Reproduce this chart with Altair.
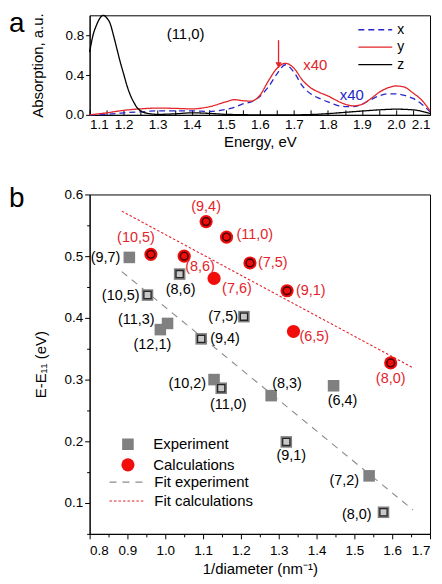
import altair as alt
import pandas as pd

FONT = "Liberation Sans"
RED = "#e3242b"
DOT_RED = "#f20d0d"
BLUE = "#2626c8"
GRAY = "#808080"

# ---------------- panel a : absorption spectra of the (11,0) tube ----------------
ENERGY_XY = [1.10, 1.15, 1.20, 1.25, 1.30, 1.35, 1.40, 1.45, 1.50, 1.525, 1.55, 1.575,
             1.60, 1.625, 1.65, 1.675, 1.70, 1.725, 1.75, 1.775, 1.80, 1.825, 1.85,
             1.875, 1.90, 1.925, 1.95, 1.975, 2.00, 2.025, 2.05, 2.075, 2.10]
ABS_X = [0.0, 0.005, 0.02, 0.03, 0.04, 0.04, 0.04, 0.035, 0.055, 0.075, 0.11, 0.13,
         0.185, 0.28, 0.41, 0.503, 0.43, 0.29, 0.21, 0.165, 0.13, 0.098, 0.083,
         0.082, 0.108, 0.15, 0.19, 0.21, 0.21, 0.195, 0.165, 0.11, 0.03]
ABS_Y = [0.0, 0.02, 0.045, 0.06, 0.068, 0.065, 0.06, 0.08, 0.13, 0.152, 0.142, 0.138,
         0.195, 0.34, 0.465, 0.518, 0.47, 0.35, 0.27, 0.225, 0.19, 0.145, 0.108,
         0.09, 0.105, 0.16, 0.225, 0.27, 0.29, 0.278, 0.22, 0.15, 0.04]
ENERGY_Z = [1.10, 1.11, 1.12, 1.13, 1.14, 1.15, 1.16, 1.17, 1.18, 1.19, 1.20, 1.21,
            1.22, 1.23, 1.24, 1.25, 1.27, 1.30, 1.35, 1.40, 1.45, 1.50, 1.60, 1.70,
            1.75, 1.80, 1.85, 1.90, 1.95, 2.00, 2.05, 2.10]
ABS_Z = [0.63, 0.80, 0.90, 0.97, 1.0, 0.975, 0.92, 0.80, 0.665, 0.53, 0.41, 0.29,
         0.195, 0.125, 0.07, 0.04, 0.015, 0.005, 0.01, 0.02, 0.015, 0.005, 0.0, 0.0,
         0.003, 0.012, 0.025, 0.038, 0.05, 0.057, 0.05, 0.015]

ANNOT_TEXT = ["(11,0)", "x40", "x40"]
ANNOT_E = [1.382, 1.763, 1.870]
ANNOT_A = [0.813, 0.497, 0.197]
ANNOT_COLOR = ["black", RED, BLUE]

ARROW_E = [1.655]
ARROW_TOP = [0.75]
ARROW_TIP = [0.47]

# ---------------- panel b : E - E11 versus inverse diameter ----------------
EXP_LABELS = ["(9,7)", "(10,5)", "(8,6)", "(11,3)", "(12,1)", "(9,4)", "(7,5)",
              "(10,2)", "(11,0)", "(8,3)", "(6,4)", "(9,1)", "(7,2)", "(8,0)"]
EXP_INV_D = [0.905, 0.953, 1.038, 1.006, 0.987, 1.095, 1.208,
             1.129, 1.148, 1.280, 1.445, 1.320, 1.539, 1.577]
EXP_DE = [0.498, 0.437, 0.471, 0.391, 0.381, 0.366, 0.402,
          0.300, 0.286, 0.274, 0.290, 0.199, 0.144, 0.085]
EXP_MATCHED = [False, True, True, False, False, True, True,
               False, True, False, False, True, False, True]

CALC_LABELS = ["(10,5)", "(8,6)", "(9,4)", "(11,0)", "(7,6)", "(7,5)", "(9,1)", "(6,5)", "(8,0)"]
CALC_INV_D = [0.962, 1.050, 1.108, 1.162, 1.129, 1.224, 1.322, 1.339, 1.596]
CALC_DE = [0.503, 0.500, 0.556, 0.531, 0.464, 0.489, 0.444, 0.378, 0.327]
CALC_MATCHED = [True, True, True, True, False, True, True, False, True]

# label placement (pixel offsets, alignment) -- styling only
EXP_LABEL_POS = {
    "(9,7)": (-9, 1, "right"), "(10,5)": (-8, 1, "right"), "(8,6)": (1, 16, "center"),
    "(11,3)": (-13, -3, "right"), "(12,1)": (-8, 15, "center"), "(9,4)": (9, 0, "left"),
    "(7,5)": (-6, 0, "right"), "(10,2)": (-8, 4, "right"), "(11,0)": (7, 17, "center"),
    "(8,3)": (16, -12, "center"), "(6,4)": (9, 15, "center"), "(9,1)": (5, 14, "center"),
    "(7,2)": (-10, 5, "right"), "(8,0)": (-12, 3, "right"),
}
CALC_LABEL_POS = {
    "(10,5)": (-15, -16, "center"), "(8,6)": (16, 11, "center"), "(9,4)": (0, -15, "center"),
    "(11,0)": (10, -2, "left"), "(7,6)": (23, 11, "center"), "(7,5)": (8, 0, "left"),
    "(9,1)": (9, 0, "left"), "(6,5)": (6, 6, "left"), "(8,0)": (0, 16, "center"),
}


def tick_values(start, stop, step):
    n = int(round((stop - start) / step))
    return [round(start + i * step, 3) for i in range(n + 1)]


EVEN_LABEL = "(round(datum.value*20) % 2 == 0) ? format(datum.value, '.1f') : ''"
MINOR_TICK = {"condition": {"test": "round(datum.value*20) % 2 == 0", "value": 5}, "value": 3}

# ---------------- chart a ----------------
top_df = pd.concat([
    pd.DataFrame({"E": ENERGY_XY, "A": ABS_X, "comp": "x"}),
    pd.DataFrame({"E": ENERGY_XY, "A": ABS_Y, "comp": "y"}),
    pd.DataFrame({"E": ENERGY_Z, "A": ABS_Z, "comp": "z"}),
], ignore_index=True)

xa = alt.X("E:Q", title="Energy, eV",
           scale=alt.Scale(domain=[1.1, 2.1], nice=False, zero=False),
           axis=alt.Axis(values=tick_values(1.1, 2.1, 0.05), labelExpr=EVEN_LABEL,
                         tickSize=alt.ExprRef(expr="-5"), labelPadding=8, titlePadding=3))
ya = alt.Y("A:Q", title="Absorption, a.u.",
           scale=alt.Scale(domain=[0, 1.0], nice=False),
           axis=alt.Axis(values=tick_values(0, 1.0, 0.2),
                         labelExpr="(round(datum.value*5) % 2 == 0 && datum.value < 0.95) ? format(datum.value, '.1f') : ''",
                         tickSize=4, labelPadding=2, titlePadding=20))

leg_a = alt.Legend(title=None, orient="none", legendX=269, legendY=8, padding=0,
                   symbolSize=1156, symbolStrokeWidth=1.3, labelFontSize=14,
                   labelOffset=4, rowPadding=2.5, clipHeight=13)
comp_dom = ["x", "y", "z"]
lines_a = alt.Chart(top_df).mark_line(interpolate="monotone", strokeWidth=1.3).encode(
    x=xa, y=ya,
    color=alt.Color("comp:N", scale=alt.Scale(domain=comp_dom, range=[BLUE, RED, "black"]), legend=leg_a),
    strokeDash=alt.StrokeDash("comp:N", scale=alt.Scale(domain=comp_dom, range=[[6, 4], [1, 0], [1, 0]]),
                              legend=leg_a),
)

ann_df = pd.DataFrame({"E": ANNOT_E, "A": ANNOT_A, "text": ANNOT_TEXT, "c": ANNOT_COLOR})
ann_a = alt.Chart(ann_df).mark_text(font=FONT, fontSize=15).encode(
    x=xa, y=ya, text="text:N", color=alt.Color("c:N", scale=None))

arrow_df = pd.DataFrame({"E": ARROW_E, "A": ARROW_TOP, "A2": ARROW_TIP})
arrow_line = alt.Chart(arrow_df).mark_rule(color=RED, strokeWidth=1.3).encode(x=xa, y=ya, y2="A2:Q")
arrow_head = alt.Chart(arrow_df).mark_point(shape="triangle-down", filled=True, color=RED,
                                            size=40, opacity=1, yOffset=-3).encode(
    x=xa, y=alt.Y("A2:Q", scale=alt.Scale(domain=[0, 1.0], nice=False)))

letter_a = alt.Chart(pd.DataFrame({"t": ["a"]})).mark_text(
    font=FONT, fontSize=28, align="left", baseline="alphabetic").encode(
    text="t:N", x=alt.value(-81), y=alt.value(17))

chart_a = alt.layer(lines_a, ann_a, arrow_line, arrow_head, letter_a).resolve_scale(
    color="independent", strokeDash="independent").properties(width=342, height=100)

# ---------------- chart b ----------------
def lbl_cols(labels, pos):
    return ([pos[l][0] for l in labels], [pos[l][1] for l in labels], [pos[l][2] for l in labels])


edx, edy, eal = lbl_cols(EXP_LABELS, EXP_LABEL_POS)
cdx, cdy, cal = lbl_cols(CALC_LABELS, CALC_LABEL_POS)
exp_df = pd.DataFrame({"inv_d": EXP_INV_D, "de": EXP_DE, "label": EXP_LABELS,
                       "matched": EXP_MATCHED, "series": "Experiment",
                       "ldx": edx, "ldy": edy, "lalign": eal})
calc_df = pd.DataFrame({"inv_d": CALC_INV_D, "de": CALC_DE, "label": CALC_LABELS,
                        "matched": CALC_MATCHED, "series": "Calculations",
                        "ldx": cdx, "ldy": cdy, "lalign": cal})
pts_df = pd.concat([exp_df, calc_df], ignore_index=True)

xb = alt.X("inv_d:Q", title="1/diameter (nm⁻¹)",
           scale=alt.Scale(domain=[0.8, 1.7], nice=False, zero=False),
           axis=alt.Axis(values=tick_values(0.8, 1.7, 0.05), labelExpr=EVEN_LABEL,
                         tickSize=MINOR_TICK, labelPadding=5, titlePadding=4))
yb = alt.Y("de:Q", title="E-E₁₁ (eV)",
           scale=alt.Scale(domain=[0.05, 0.6], nice=False, zero=False),
           axis=alt.Axis(values=tick_values(0.05, 0.6, 0.05), labelExpr=EVEN_LABEL,
                         tickSize=MINOR_TICK, labelPadding=2, titlePadding=16))

fit_dom = ["Fit experiment", "Fit calculations"]
leg_fit = alt.Legend(title=None, orient="none", legendX=19, legendY=282, padding=0,
                     symbolSize=1296, symbolStrokeWidth=1.1, labelFontSize=15,
                     labelOffset=8, rowPadding=4, clipHeight=14)
fits = alt.Chart(pts_df).transform_regression(
    "inv_d", "de", method="linear", groupby=["series"], extent=[0.885, 1.655]
).transform_calculate(
    fit="datum.series == 'Experiment' ? 'Fit experiment' : 'Fit calculations'"
).mark_line(strokeWidth=1.1).encode(
    x=xb, y=yb,
    color=alt.Color("fit:N", scale=alt.Scale(domain=fit_dom, range=["#8c8c8c", RED]), legend=leg_fit),
    strokeDash=alt.StrokeDash("fit:N", scale=alt.Scale(domain=fit_dom, range=[[7, 6], [2.5, 2]]),
                              legend=leg_fit),
)

ser_dom = ["Experiment", "Calculations"]
leg_pts = alt.Legend(title=None, orient="none", legendX=31, legendY=244, padding=0,
                     labelFontSize=15, labelOffset=18, rowPadding=5.6, symbolStrokeWidth=0,
                     clipHeight=14)
points = alt.Chart(pts_df).mark_point(filled=True, opacity=1, strokeWidth=0).encode(
    x=xb, y=yb,
    color=alt.Color("series:N", scale=alt.Scale(domain=ser_dom, range=[GRAY, DOT_RED]), legend=leg_pts),
    shape=alt.Shape("series:N", scale=alt.Scale(domain=ser_dom, range=["square", "circle"]), legend=leg_pts),
    size=alt.Size("series:N", scale=alt.Scale(domain=ser_dom, range=[135, 175]), legend=leg_pts),
)

inner_sq = alt.Chart(exp_df).transform_filter("datum.matched").mark_square(
    size=52, color="#c8c8c8", stroke="#262626", strokeWidth=1.3, opacity=1).encode(x=xb, y=yb)
inner_ci = alt.Chart(calc_df).transform_filter("datum.matched").mark_point(
    shape="circle", filled=False, size=60, stroke="#4d0000", strokeWidth=1.6, opacity=1).encode(x=xb, y=yb)

lbl_exp = alt.Chart(exp_df).mark_text(
    font=FONT, fontSize=14.5, color="black", baseline="middle",
    align=alt.ExprRef(expr="datum.lalign"), dx=alt.ExprRef(expr="datum.ldx"),
    dy=alt.ExprRef(expr="datum.ldy")).encode(x=xb, y=yb, text="label:N")
lbl_calc = alt.Chart(calc_df).mark_text(
    font=FONT, fontSize=14.5, color=RED, baseline="middle",
    align=alt.ExprRef(expr="datum.lalign"), dx=alt.ExprRef(expr="datum.ldx"),
    dy=alt.ExprRef(expr="datum.ldy")).encode(x=xb, y=yb, text="label:N")

letter_b = alt.Chart(pd.DataFrame({"t": ["b"]})).mark_text(
    font=FONT, fontSize=28, align="left", baseline="alphabetic").encode(
    text="t:N", x=alt.value(-81), y=alt.value(13))

chart_b = alt.layer(fits, points, inner_sq, inner_ci, lbl_exp, lbl_calc, letter_b).resolve_scale(
    color="independent", strokeDash="independent", shape="independent", size="independent"
).properties(width=342, height=341)

chart = alt.vconcat(chart_a, chart_b, spacing=35).resolve_scale(
    color="independent", strokeDash="independent", shape="independent", size="independent"
).properties(
    padding={"left": 0, "top": 0, "right": 0, "bottom": 0}
).configure(font=FONT).configure_view(stroke="black", strokeWidth=1).configure_axis(
    grid=False, labelFont=FONT, titleFont=FONT, labelFontSize=13.5, titleFontSize=15,
    titleFontWeight="normal", domainColor="black", tickColor="black", labelColor="black",
    titleColor="black", domainWidth=1, labelOverlap=False
).configure_legend(labelFont=FONT, labelColor="black")

chart.save("out.html", embed_options={"renderer": "svg", "actions": False})
